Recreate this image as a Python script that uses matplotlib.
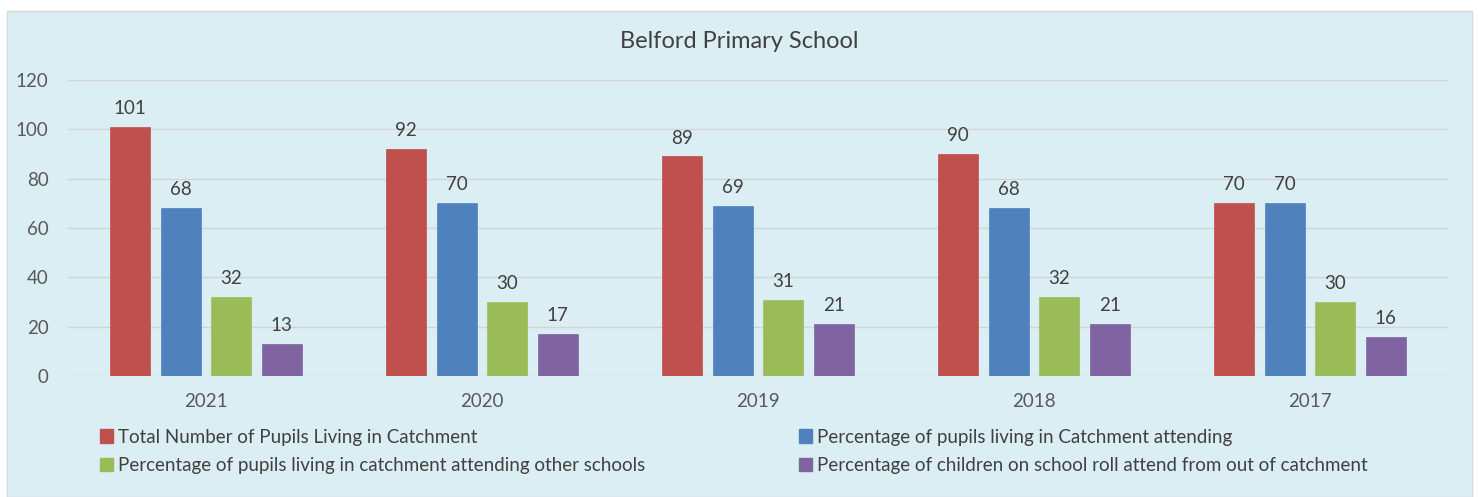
import numpy as np
import matplotlib.pyplot as plt
from matplotlib.patches import Rectangle, Patch

plt.rcParams['font.family'] = ['Lato', 'DejaVu Sans']

years = ['2021', '2020', '2019', '2018', '2017']
total_in_catchment = [101, 92, 89, 90, 70]
pct_attending = [68, 70, 69, 68, 70]
pct_other_schools = [32, 30, 31, 32, 30]
pct_out_of_catchment = [13, 17, 21, 21, 16]

labels = ['Total Number of Pupils Living in Catchment',
          'Percentage of pupils living in Catchment attending',
          'Percentage of pupils living in catchment attending other schools',
          'Percentage of children on school roll attend from out of catchment']
colors = ['#C0504D', '#4F81BD', '#9BBB59', '#8064A2']
series = [total_in_catchment, pct_attending, pct_other_schools, pct_out_of_catchment]

fig = plt.figure(figsize=(14.78, 4.97), dpi=100)
fig.patch.set_facecolor('white')
# light blue chart panel
fig.patches.append(Rectangle((7 / 1478, 0), 1465 / 1478, 486 / 497, transform=fig.transFigure,
                             facecolor='#DBEEF4', edgecolor='#D9D9D9', lw=1, zorder=-5))

ax = fig.add_axes([68 / 1478, 1 - 376 / 497, 1380 / 1478, 296 / 497])
ax.set_facecolor('none')
ax.set_zorder(2)

x = np.arange(len(years))
step = 0.183
width = 0.145
for i, (vals, c) in enumerate(zip(series, colors)):
    pos = x + (i - 1.5) * step
    bars = ax.bar(pos, vals, width, color=c, edgecolor=c, lw=0.5, zorder=3)
    for b, v in zip(bars, vals):
        ax.text(b.get_x() + b.get_width() / 2, v + 4, str(v), ha='center', va='bottom',
                fontsize=13.5, color='#404040')

ax.set_ylim(0, 120)
ax.set_xlim(-0.5, len(years) - 0.5)
ax.set_yticks(range(0, 121, 20))
ax.set_xticks(x)
ax.set_xticklabels(years)
ax.grid(axis='y', color='#D4D4D4', lw=1, zorder=0)
ax.tick_params(axis='both', length=0, labelsize=13.5, labelcolor='#595959')
ax.tick_params(axis='y', pad=14)
ax.tick_params(axis='x', pad=12)
for s in ax.spines.values():
    s.set_visible(False)

fig.text(0.5, 1 - 42 / 497, 'Belford Primary School', ha='center', va='center',
         fontsize=17, color='#404040')

h = [Patch(color=c) for c in colors]
kw = dict(frameon=False, fontsize=13.5, labelcolor='#404040', handlelength=0.7,
          handleheight=0.7, handletextpad=0.3, labelspacing=0.6, borderaxespad=0)
leg1 = fig.legend([h[0], h[2]], [labels[0], labels[2]], loc='upper left',
                  bbox_to_anchor=(92 / 1478, 1 - 421 / 497), **kw)
leg2 = fig.legend([h[1], h[3]], [labels[1], labels[3]], loc='upper left',
                  bbox_to_anchor=(791 / 1478, 1 - 421 / 497), **kw)

fig.savefig('out.png', dpi=100)
